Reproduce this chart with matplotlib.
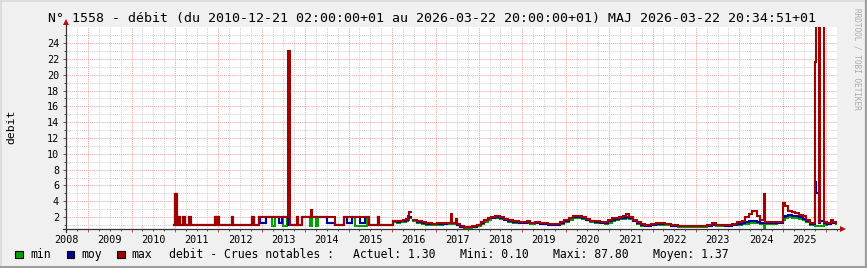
import numpy as np
import matplotlib
matplotlib.use('Agg')
import matplotlib.pyplot as plt
import matplotlib.dates as mdates
from matplotlib.patches import Rectangle
from matplotlib.lines import Line2D
from matplotlib.ticker import FixedLocator, FuncFormatter, NullFormatter

NaN = float('nan')

# ---------------- data (step series, value holds until next date) ----------------
dates = [
    '2010-12-21', '2011-01-01', '2011-01-15', '2011-01-29', '2011-02-09', '2011-03-06',
    '2011-03-23', '2011-05-01', '2011-05-16', '2011-12-02', '2011-12-12', '2011-12-24',
    '2012-01-05', '2012-04-22', '2012-05-04', '2012-10-12', '2012-10-23', '2012-12-07',
    '2012-12-20', '2013-02-01', '2013-03-28', '2013-04-25', '2013-05-21', '2013-06-23',
    '2013-07-01', '2013-08-04', '2013-08-07', '2013-08-29', '2013-10-22', '2013-11-02',
    '2013-12-04', '2014-02-08', '2014-02-14', '2014-02-25', '2014-02-28', '2014-04-04',
    '2014-04-20', '2014-07-02', '2014-09-10', '2014-11-19', '2014-12-17', '2015-01-29',
    '2015-02-26', '2015-04-10', '2015-05-20', '2015-06-04', '2015-06-23', '2015-09-01',
    '2015-09-13',
    '2016-01-13', '2016-02-10', '2016-03-10', '2016-04-05', '2016-04-25', '2016-05-12',
    '2016-05-25', '2016-06-05', '2016-06-28', '2016-08-01', '2016-09-05', '2016-10-15',
    '2016-12-01', '2017-01-15', '2017-03-01', '2017-04-10', '2017-05-10', '2017-05-20',
    '2017-06-22', '2017-07-02', '2017-07-28', '2017-09-01', '2017-11-01', '2017-12-15',
    '2018-01-15', '2018-02-15', '2018-03-15', '2018-04-15', '2018-05-20', '2018-06-25',
    '2018-08-01', '2018-09-05', '2018-10-15', '2018-12-01', '2019-01-10', '2019-02-05',
    '2019-03-10', '2019-04-20', '2019-06-01', '2019-08-01', '2019-10-01', '2019-11-15',
    '2019-12-20', '2020-01-25', '2020-03-01', '2020-04-10', '2020-05-15', '2020-06-20',
    '2020-07-25', '2020-09-01', '2020-10-15', '2020-11-25', '2020-12-20', '2021-01-20',
    '2021-02-20', '2021-03-25', '2021-04-25', '2021-05-20', '2021-06-20', '2021-07-20',
    '2021-08-20', '2021-09-25', '2021-11-01', '2021-12-15', '2022-02-01', '2022-03-05',
    '2022-04-15', '2022-06-01', '2022-08-01', '2022-10-01', '2022-12-01', '2023-02-01',
    '2023-04-01', '2023-05-15', '2023-06-20', '2023-09-01', '2023-11-01', '2023-12-15',
    '2024-01-20', '2024-02-20', '2024-03-20', '2024-04-20', '2024-05-25', '2024-06-25',
    '2024-07-25', '2024-08-05', '2024-09-15', '2024-11-10', '2025-01-01', '2025-01-20',
    '2025-02-15', '2025-03-15', '2025-04-15', '2025-05-15', '2025-06-15', '2025-07-15',
    '2025-08-15', '2025-09-01', '2025-09-25', '2025-10-09', '2025-10-29', '2025-11-06',
    '2025-12-10', '2026-01-10', '2026-02-08', '2026-03-01', '2026-03-22',
]

vmax = [
    1.0, 4.9, 1.0, 2.0, 1.0, 2.0,
    1.0, 2.0, 1.0, 2.0, 1.0, 2.0,
    1.0, 2.0, 1.0, 2.0, 1.0, 2.0,
    2.0, 2.0, 2.0, 2.0, 2.0, 2.0,
    2.0, 2.0, 23.0, 1.0, 2.0, 1.0,
    2.0, 2.0, 2.9, 2.0, 2.0, 2.0,
    2.0, 2.0, 1.0, 2.0, 2.0, 2.0,
    2.0, 2.0, 2.0, 2.0, 1.0, 2.0,
    1.0,
    1.55, 1.50, 1.55, 1.60, 1.75, 2.10,
    2.60, NaN, 1.70, 1.50, 1.35, 1.20,
    1.15, 1.20, 1.25, 1.30, 2.45, 1.30,
    1.80, 1.15, 0.85, 0.80, 0.85, 1.05,
    1.40, 1.70, 1.95, 2.05, 2.10, 2.00,
    1.80, 1.60, 1.45, 1.40, 1.35, 1.45,
    1.30, 1.35, 1.28, 1.15, 1.12, 1.35,
    1.60, 1.95, 2.20, 2.15, 2.00, 1.80,
    1.55, 1.45, 1.35, 1.35, 1.65, 1.85,
    1.90, 2.00, 2.20, 2.35, 2.05, 1.70,
    1.35, 1.08, 0.95, 1.10, 1.22, 1.30,
    1.18, 1.00, 0.90, 0.88, 0.90, 0.92,
    1.00, 1.25, 1.05, 1.00, 1.15, 1.35,
    1.55, 2.00, 2.40, 2.80, 2.10, 1.60,
    4.90, 1.35, 1.35, 1.40, 3.80, 3.40,
    2.80, 2.60, 2.50, 2.30, 2.10, 1.70,
    1.30, 1.20, 21.6, 87.8, 1.40, 40.0,
    1.40, 1.30, 1.60, 1.40, 1.30,
]

vmoy = [
    1.0, 4.9, 1.0, 2.0, 1.0, 2.0,
    1.0, 2.0, 1.0, 2.0, 1.0, 2.0,
    1.0, 2.0, 1.0, 2.0, 1.0, 2.0,
    1.2, 2.0, 2.0, 2.0, 1.3, 2.0,
    2.0, 2.0, 1.0, 1.0, 2.0, 1.0,
    2.0, 2.0, 2.0, 2.0, 2.0, 2.0,
    2.0, 1.2, 1.0, 2.0, 1.2, 2.0,
    2.0, 1.2, 2.0, 2.0, 1.0, 2.0,
    1.0,
    1.45, 1.42, 1.45, 1.50, 1.60, 1.90,
    2.05, NaN, 1.60, 1.40, 1.25, 1.12,
    1.08, 1.12, 1.15, 1.20, 1.40, 1.20,
    1.30, 1.05, 0.80, 0.75, 0.80, 0.98,
    1.30, 1.60, 1.85, 1.95, 1.98, 1.90,
    1.70, 1.50, 1.36, 1.30, 1.27, 1.35,
    1.22, 1.25, 1.18, 1.06, 1.03, 1.20,
    1.50, 1.85, 2.05, 2.02, 1.90, 1.70,
    1.45, 1.35, 1.25, 1.22, 1.48, 1.68,
    1.78, 1.85, 1.95, 2.00, 1.88, 1.55,
    1.22, 1.00, 0.90, 1.00, 1.10, 1.15,
    1.08, 0.94, 0.85, 0.82, 0.85, 0.86,
    0.90, 1.05, 0.95, 0.92, 1.00, 1.12,
    1.22, 1.35, 1.45, 1.50, 1.40, 1.30,
    1.30, 1.25, 1.25, 1.30, 2.00, 2.20,
    2.30, 2.20, 2.10, 2.00, 1.80, 1.45,
    1.18, 1.10, 6.40, 5.00, 1.20, 1.50,
    1.20, 1.18, 1.40, 1.30, 1.20,
]

vmin = [
    1.0, 4.9, 1.0, 2.0, 1.0, 2.0,
    1.0, 2.0, 1.0, 2.0, 1.0, 2.0,
    1.0, 2.0, 1.0, 2.0, 1.0, 2.0,
    1.2, 2.0, 0.9, 2.0, 1.3, 2.0,
    0.9, 2.0, 1.0, 1.0, 2.0, 1.0,
    2.0, 0.9, 0.9, 0.9, 2.0, 0.9,
    2.0, 1.2, 1.0, 2.0, 1.2, 2.0,
    0.9, 0.9, 0.9, 2.0, 1.0, 2.0,
    1.0,
    1.35, 1.32, 1.35, 1.40, 1.50, 1.70,
    1.85, NaN, 1.50, 1.30, 1.18, 1.05,
    1.02, 1.05, 1.10, 1.12, 1.20, 1.10,
    1.15, 0.95, 0.72, 0.68, 0.72, 0.88,
    1.10, 1.35, 1.70, 1.85, 1.88, 1.80,
    1.62, 1.42, 1.30, 1.25, 1.22, 1.28,
    1.16, 1.20, 1.12, 1.00, 0.96, 1.08,
    1.35, 1.70, 1.92, 1.92, 1.80, 1.60,
    1.35, 1.28, 1.20, 1.15, 1.32, 1.52,
    1.68, 1.75, 1.82, 1.88, 1.78, 1.45,
    1.12, 0.94, 0.85, 0.95, 1.00, 1.05,
    1.00, 0.88, 0.80, 0.78, 0.80, 0.80,
    0.85, 0.95, 0.90, 0.86, 0.95, 1.02,
    1.10, 1.18, 1.22, 1.25, 1.20, 1.15,
    0.55, 1.15, 1.18, 1.20, 1.60, 1.85,
    2.00, 1.95, 1.90, 1.80, 1.65, 1.35,
    1.05, 1.00, 0.90, 0.90, 0.90, 0.90,
    1.00, 1.08, 1.28, 1.20, 1.15,
]

y_major = [2, 4, 6, 8, 10, 12, 14, 16, 18, 20, 22, 24]
y_minor = [1, 3, 5, 7, 9, 11, 13, 15, 17, 19, 21, 23, 25]

title = "N° 1558 - débit (du 2010-12-21 02:00:00+01 au 2026-03-22 20:00:00+01) MAJ 2026-03-22 20:34:51+01"
legend_names = ['min', 'moy', 'max']
legend_colors = ['#00A000', '#0000A0', '#A00000']
summary_title = 'debit - Crues notables :'
summary = ['Actuel: 1.30', 'Mini: 0.10', 'Maxi: 87.80', 'Moyen: 1.37']

# ---------------- figure ----------------
MONO = 'DejaVu Sans Mono'
W, H = 867, 268
fig = plt.figure(figsize=(W / 100, H / 100), dpi=100, facecolor='#F0F0F0')


def fx(x):
    return x / W


def fy(y):
    return 1 - y / H


L, R, T, B = 66, 837, 26.5, 229
ax = fig.add_axes([fx(L), fy(B), fx(R) - fx(L), fy(T) - fy(B)])
ax.set_facecolor('white')
ax.set_axisbelow(True)

t = np.array(dates, dtype='datetime64[D]')
for vals, col in zip([vmin, vmoy, vmax], legend_colors):
    ax.plot(t, vals, drawstyle='steps-post', color=col, lw=1.5, solid_joinstyle='miter')

ax.set_xlim(np.datetime64('2008-06-28'), np.datetime64('2026-04-01'))
ax.set_ylim(0.5, 26.1)

ax.xaxis.set_major_locator(mdates.YearLocator())
ax.xaxis.set_minor_locator(mdates.MonthLocator(bymonth=[1, 4, 7, 10]))
ax.xaxis.set_major_formatter(NullFormatter())


def minor_fmt(x, pos):
    d = mdates.num2date(x)
    return d.strftime('%Y') if d.month == 7 else ''


ax.xaxis.set_minor_formatter(FuncFormatter(minor_fmt))
ax.yaxis.set_major_locator(FixedLocator(y_major))
ax.yaxis.set_minor_locator(FixedLocator(y_minor))
ax.set_yticklabels([str(v) for v in y_major])

gridstyle = (0, (1.0, 1.0))
ax.grid(which='major', color='#F5A0A0', ls=gridstyle, lw=0.7)
ax.grid(which='minor', color='#CFCFCF', ls=gridstyle, lw=0.7)

ax.tick_params(axis='x', which='major', length=2.5, color='#D04040', width=0.7)
ax.tick_params(axis='x', which='minor', length=1.5, color='#555555', width=0.7,
               labelsize=7.3, pad=2.5)
ax.tick_params(axis='y', which='major', length=2.5, color='#555555', width=0.7,
               labelsize=7.3, pad=2.5)
ax.tick_params(axis='y', which='minor', length=1.5, color='#555555', width=0.7)
for lab in ax.get_xticklabels(minor=True) + ax.get_yticklabels():
    lab.set_family(MONO)

for s in ax.spines.values():
    s.set_visible(False)

# axis lines with arrows
fig.add_artist(Line2D([fx(63), fx(840)], [fy(B), fy(B)], color='#333333', lw=0.9))
fig.add_artist(Line2D([fx(L), fx(L)], [fy(B + 3), fy(23)], color='#333333', lw=0.9))
fig.add_artist(Line2D([fx(843)], [fy(B)], marker='>', color='#B01010', ms=4, mew=0))
fig.add_artist(Line2D([fx(L)], [fy(21.5)], marker='^', color='#B01010', ms=4, mew=0))

# title and labels
fig.text(fx(432), fy(18.5), title, family=MONO, fontsize=9.5, ha='center', va='center')
fig.text(fx(11), fy(127), 'debit', family=MONO, fontsize=8.2, rotation=90,
         ha='center', va='center')
fig.text(fx(857), fy(59), 'RRDTOOL / TOBI OETIKER', family=MONO, fontsize=5.6,
         rotation=270, ha='center', va='center', color='#AAAAAA')

# legend
box_x = [15, 66.7, 117.3]
name_x = [30, 81, 131.7]
ly = 254.5
for bx, nx, name, col in zip(box_x, name_x, legend_names, legend_colors):
    fig.add_artist(Rectangle((fx(bx), fy(258.3)), 7.7 / W, 7.3 / H, facecolor=col,
                             edgecolor='black', lw=0.8, transform=fig.transFigure))
    fig.text(fx(nx), fy(ly), name, family=MONO, fontsize=8.3, ha='left', va='center')
fig.text(fx(169), fy(ly), summary_title, family=MONO, fontsize=8.3, ha='left', va='center')
for sx, s in zip([352.7, 460, 552.7, 652.7], summary):
    fig.text(fx(sx), fy(ly), s, family=MONO, fontsize=8.3, ha='left', va='center')

# image frame (shade)
fig.add_artist(Line2D([0, 1], [fy(0.5), fy(0.5)], color='#DADADA', lw=1.2))
fig.add_artist(Line2D([fx(0.5), fx(0.5)], [0, 1], color='#DADADA', lw=1.2))
fig.add_artist(Line2D([0, 1], [fy(266.5), fy(266.5)], color='#9E9E9E', lw=2.2))
fig.add_artist(Line2D([fx(866), fx(866)], [0, 1], color='#9E9E9E', lw=1.6))

fig.savefig('out.png', dpi=100, facecolor=fig.get_facecolor())
